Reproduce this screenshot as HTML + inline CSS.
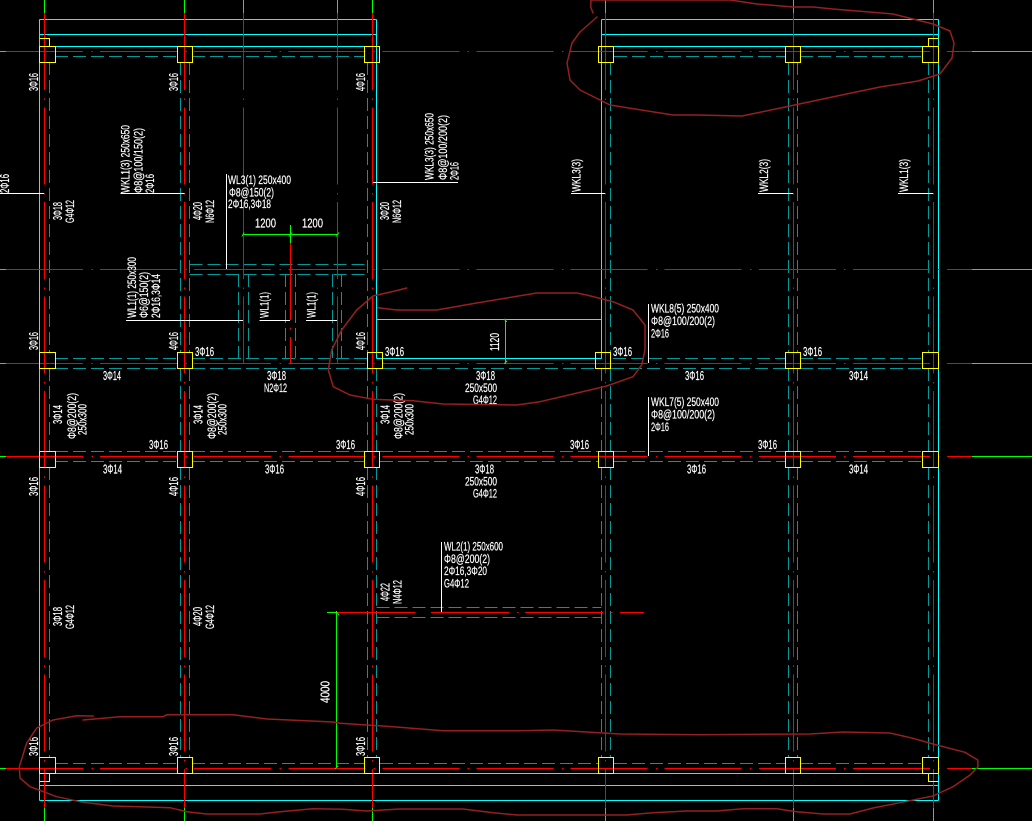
<!DOCTYPE html>
<html><head><meta charset="utf-8"><style>
html,body{margin:0;padding:0;background:#000;width:1032px;height:821px;overflow:hidden}
svg{display:block}
text{font-family:"Liberation Sans",sans-serif;font-size:12.5px;fill:#fff;stroke:#fff;stroke-width:.2}
.l{font-size:11.5px}
.c{stroke:#00ffff;stroke-width:1;fill:none;shape-rendering:crispEdges}
.t{stroke:#009a9a;stroke-width:1;fill:none;stroke-dasharray:13 5;shape-rendering:crispEdges}
.rh{stroke:#ff0000;stroke-width:1;fill:none;stroke-dasharray:77 8.3 1.5 7.3;shape-rendering:crispEdges}
.rv{stroke:#ff0000;stroke-width:1;fill:none;stroke-dasharray:77 8.5 1.5 7.5;shape-rendering:crispEdges}
.r{stroke:#ff0000;stroke-width:1;fill:none;shape-rendering:crispEdges}
.g{stroke:#00ff00;stroke-width:1;fill:none;shape-rendering:crispEdges}
.w{stroke:#ffffff;stroke-width:1;fill:none;shape-rendering:crispEdges}
.y{stroke:#ffff00;stroke-width:1;fill:none;shape-rendering:crispEdges}
.m{stroke:#961f1f;stroke-width:1.5;fill:none;stroke-linejoin:round;stroke-linecap:round}
</style></head><body>
<svg width="1032" height="821" viewBox="0 0 1032 821" xmlns="http://www.w3.org/2000/svg">
<rect width="1032" height="821" fill="#000"/>

<!-- cyan -->
<path class="c" d="M39.5 19.5H376.5M39.5 34.5H376.5M39.5 46.5H376.5M601.5 19.5H938.5M601.5 34.5H938.5M601.5 46.5H938.5M39.5 773.5H938.5M39.5 785.5H938.5M39.5 800.5H938.5M39.5 19.5V800.5M938.5 19.5V800.5M376.5 19.5V358.5M601.5 19.5V358.5M376.5 358.5H601.5M376.5 319.5H601.5"/>

<!-- teal dashed verticals -->
<path class="t" d="M49.5 62V352M49.5 368V451M49.5 467V757M180.5 62V352M180.5 368V451M180.5 467V757M189.5 62V352M189.5 368V451M189.5 467V757M367.5 62V352M367.5 368V451M367.5 467V757M376.5 368V451M376.5 467V757M601.5 368V451M601.5 467V757M610.5 62V352M610.5 368V451M610.5 467V757M788.5 62V352M788.5 368V451M788.5 467V757M797.5 62V352M797.5 368V451M797.5 467V757M928.5 62V352M928.5 368V451M928.5 467V757"/>
<!-- teal dashed horizontals -->
<path class="t" d="M55 56.5H177M192 56.5H364M614 56.5H785M800 56.5H922M55 358.5H177M192 358.5H367M613 358.5H785M800 358.5H922M55 368.5H177M192 368.5H367M383 368.5H595M611 368.5H785M800 368.5H922M55 451.5H177M192 451.5H364M380 451.5H598M614 451.5H785M800 451.5H922M55 461.5H177M192 461.5H364M380 461.5H598M614 461.5H785M800 461.5H922M55 763.5H177M192 763.5H364M380 763.5H598M614 763.5H785M800 763.5H922M189.5 264.5H367M189.5 274.5H367M376.5 607.5H601.5M376.5 617.5H601.5"/>
<path class="t" d="M238.5 274V358M248.5 274V358M285.5 274V358M295.5 274V358M332.5 274V358M341.5 274V358"/>

<!-- green axes -->
<path class="g" d="M44.5 0V13M184.5 0V13M243.5 0V13M337.5 0V13M372.5 0V13M605.5 0V13M793.5 0V13M933.5 0V13M44.5 808V821M184.5 808V821M372.5 808V821M605.5 808V821M793.5 808V821M933.5 808V821M0 51.5H6M0 269.5H6M0 363.5H6M0 456.5H6M0 768.5H6M972 51.5H1032M972 269.5H1032M972 363.5H1032M972 456.5H1032M972 768.5H1032"/>

<!-- red axes -->
<path class="rh" d="M6 51.5H972"/>
<path class="rh" d="M6 269.5H972"/>
<path class="rh" d="M6 363.5H972"/>
<path class="rh" d="M6 456.5H972"/>
<path class="rh" d="M6 768.5H972"/>
<path class="rv" d="M44.5 13V808"/>
<path class="rv" d="M184.5 13V808"/>
<path class="rv" d="M372.5 13V808"/>
<path class="rv" d="M605.5 13V808"/>
<path class="rv" d="M793.5 13V808"/>
<path class="rv" d="M933.5 13V808"/>
<path class="rv" d="M243.5 13V363"/>
<path class="rv" d="M337.5 13V363"/>
<path class="r" d="M290.5 243V320M290.5 328V329.5M290.5 337V363M337 612.5H415M431 612.5H509M517 612.5H518.5M525 612.5H603M611 612.5H612.5M620 612.5H644"/>

<!-- white leaders -->
<path class="w" d="M0 193.5H44M120.5 193.5H184.5M571 193.5H605M758 193.5H793M898 193.5H933M373 182.5H458M226.5 174V269M126 320.5H243M259.5 320.5H290M306 320.5H337M648.5 304V363M648.5 397V456M441.5 542V612"/>

<!-- green dims -->
<path class="g" d="M243 234.5H338M290.5 225V243M242 236.5L244 232.5M289 236.5L292 232.5M336 236.5L339 232.5M336.5 612.5V768M327 612.5H337M335 769L338 766M336 611L339 615M505.5 319V364M504 319L507 322M504 364L507 361"/>

<!-- yellow columns -->
<path class="y" d="M39.5 46.5H55.5V62.5H39.5ZM39.5 38.5H49.5V46.5M177.5 46.5H192.5V62.5H177.5ZM364.5 46.5H379.5V62.5H364.5ZM598.5 46.5H613.5V62.5H598.5ZM785.5 46.5H800.5V62.5H785.5ZM922.5 46.5H938.5V62.5H922.5ZM928.5 46.5V38.5H938.5"/>
<path class="y" d="M39.5 352.5H55.5V368.5H39.5ZM177.5 352.5H192.5V368.5H177.5ZM367.5 352.5H382.5V368.5H367.5ZM595.5 352.5H610.5V368.5H595.5ZM785.5 352.5H800.5V368.5H785.5ZM922.5 352.5H938.5V368.5H922.5Z"/>
<path class="y" d="M39.5 451.5H55.5V467.5H39.5ZM177.5 451.5H192.5V467.5H177.5ZM364.5 451.5H379.5V467.5H364.5ZM598.5 451.5H613.5V467.5H598.5ZM785.5 451.5H800.5V467.5H785.5ZM922.5 451.5H938.5V467.5H922.5Z"/>
<path class="y" d="M39.5 757.5H55.5V773.5H39.5ZM39.5 781.5H49.5V773.5M177.5 757.5H192.5V773.5H177.5ZM364.5 757.5H379.5V773.5H364.5ZM598.5 757.5H613.5V773.5H598.5ZM785.5 757.5H800.5V773.5H785.5ZM922.5 757.5H938.5V773.5H922.5ZM928.5 773.5V781.5H938.5"/>

<!-- rotated labels -->
<text transform="translate(38,91)rotate(-90)" textLength="18" lengthAdjust="spacingAndGlyphs">3Φ16</text>
<text transform="translate(178,91)rotate(-90)" textLength="18" lengthAdjust="spacingAndGlyphs">3Φ16</text>
<text transform="translate(365,91)rotate(-90)" textLength="18" lengthAdjust="spacingAndGlyphs">4Φ16</text>
<text transform="translate(9,193)rotate(-90)" textLength="19" lengthAdjust="spacingAndGlyphs">2Φ16</text>
<text class="l" transform="translate(129.5,193)rotate(-90)" textLength="68" lengthAdjust="spacingAndGlyphs">WKL1(3) 250x650</text>
<text class="l" transform="translate(142.5,193)rotate(-90)" textLength="65" lengthAdjust="spacingAndGlyphs">Φ8@100/150(2)</text>
<text class="l" transform="translate(154,193)rotate(-90)" textLength="19" lengthAdjust="spacingAndGlyphs">2Φ16</text>
<text transform="translate(62,220)rotate(-90)" textLength="18" lengthAdjust="spacingAndGlyphs">3Φ18</text>
<text class="l" transform="translate(74,223)rotate(-90)" textLength="23" lengthAdjust="spacingAndGlyphs">G4Φ12</text>
<text transform="translate(202,220)rotate(-90)" textLength="18" lengthAdjust="spacingAndGlyphs">4Φ20</text>
<text class="l" transform="translate(214,223)rotate(-90)" textLength="23" lengthAdjust="spacingAndGlyphs">N6Φ12</text>
<text transform="translate(389,220)rotate(-90)" textLength="18" lengthAdjust="spacingAndGlyphs">3Φ20</text>
<text class="l" transform="translate(401,223)rotate(-90)" textLength="23" lengthAdjust="spacingAndGlyphs">N6Φ12</text>
<text class="l" transform="translate(433.5,180)rotate(-90)" textLength="67" lengthAdjust="spacingAndGlyphs">WKL3(3) 250x650</text>
<text class="l" transform="translate(447,180)rotate(-90)" textLength="65" lengthAdjust="spacingAndGlyphs">Φ8@100/200(2)</text>
<text class="l" transform="translate(458.5,180)rotate(-90)" textLength="18" lengthAdjust="spacingAndGlyphs">2Φ16</text>
<text class="l" transform="translate(136,318)rotate(-90)" textLength="61" lengthAdjust="spacingAndGlyphs">WL1(1) 250x300</text>
<text class="l" transform="translate(148,318)rotate(-90)" textLength="46" lengthAdjust="spacingAndGlyphs">Φ6@150(2)</text>
<text class="l" transform="translate(160,318)rotate(-90)" textLength="44" lengthAdjust="spacingAndGlyphs">2Φ16,3Φ14</text>
<text class="l" transform="translate(268.5,318)rotate(-90)" textLength="26" lengthAdjust="spacingAndGlyphs">WL1(1)</text>
<text class="l" transform="translate(315.5,318)rotate(-90)" textLength="26" lengthAdjust="spacingAndGlyphs">WL1(1)</text>
<text class="l" transform="translate(580.5,192)rotate(-90)" textLength="33" lengthAdjust="spacingAndGlyphs">WKL3(3)</text>
<text class="l" transform="translate(768,192)rotate(-90)" textLength="33" lengthAdjust="spacingAndGlyphs">WKL2(3)</text>
<text class="l" transform="translate(908,192)rotate(-90)" textLength="33" lengthAdjust="spacingAndGlyphs">WKL1(3)</text>
<text transform="translate(38,350)rotate(-90)" textLength="18" lengthAdjust="spacingAndGlyphs">3Φ16</text>
<text transform="translate(178,350)rotate(-90)" textLength="18" lengthAdjust="spacingAndGlyphs">4Φ16</text>
<text transform="translate(365,350)rotate(-90)" textLength="18" lengthAdjust="spacingAndGlyphs">4Φ16</text>
<text transform="translate(499,351)rotate(-90)" textLength="18" lengthAdjust="spacingAndGlyphs">1120</text>
<text transform="translate(62,424)rotate(-90)" textLength="19" lengthAdjust="spacingAndGlyphs">3Φ14</text>
<text class="l" transform="translate(76,439)rotate(-90)" textLength="46" lengthAdjust="spacingAndGlyphs">Φ8@200(2)</text>
<text class="l" transform="translate(86.5,435)rotate(-90)" textLength="31" lengthAdjust="spacingAndGlyphs">250x300</text>
<text transform="translate(202.5,424)rotate(-90)" textLength="19" lengthAdjust="spacingAndGlyphs">3Φ14</text>
<text class="l" transform="translate(216,439)rotate(-90)" textLength="46" lengthAdjust="spacingAndGlyphs">Φ8@200(2)</text>
<text class="l" transform="translate(226.5,435)rotate(-90)" textLength="31" lengthAdjust="spacingAndGlyphs">250x300</text>
<text transform="translate(389.5,424)rotate(-90)" textLength="19" lengthAdjust="spacingAndGlyphs">3Φ14</text>
<text class="l" transform="translate(402.5,439)rotate(-90)" textLength="46" lengthAdjust="spacingAndGlyphs">Φ8@200(2)</text>
<text class="l" transform="translate(413.5,435)rotate(-90)" textLength="31" lengthAdjust="spacingAndGlyphs">250x300</text>
<text transform="translate(38,496)rotate(-90)" textLength="19" lengthAdjust="spacingAndGlyphs">3Φ16</text>
<text transform="translate(178,496)rotate(-90)" textLength="19" lengthAdjust="spacingAndGlyphs">4Φ16</text>
<text transform="translate(365,496)rotate(-90)" textLength="19" lengthAdjust="spacingAndGlyphs">4Φ16</text>
<text transform="translate(62,626)rotate(-90)" textLength="19" lengthAdjust="spacingAndGlyphs">3Φ18</text>
<text class="l" transform="translate(74,629)rotate(-90)" textLength="24" lengthAdjust="spacingAndGlyphs">G4Φ12</text>
<text transform="translate(202,626)rotate(-90)" textLength="19" lengthAdjust="spacingAndGlyphs">4Φ20</text>
<text class="l" transform="translate(214,629)rotate(-90)" textLength="24" lengthAdjust="spacingAndGlyphs">G4Φ12</text>
<text transform="translate(389.5,601)rotate(-90)" textLength="18" lengthAdjust="spacingAndGlyphs">4Φ22</text>
<text class="l" transform="translate(401.5,604)rotate(-90)" textLength="24" lengthAdjust="spacingAndGlyphs">N4Φ12</text>
<text transform="translate(329.5,703)rotate(-90)" textLength="22" lengthAdjust="spacingAndGlyphs">4000</text>
<text transform="translate(38,756)rotate(-90)" textLength="19" lengthAdjust="spacingAndGlyphs">3Φ16</text>
<text transform="translate(178,756)rotate(-90)" textLength="19" lengthAdjust="spacingAndGlyphs">3Φ16</text>
<text transform="translate(365,756)rotate(-90)" textLength="19" lengthAdjust="spacingAndGlyphs">3Φ16</text>

<!-- horizontal labels -->
<text class="l" x="228" y="184" textLength="63" lengthAdjust="spacingAndGlyphs">WL3(1) 250x400</text>
<text class="l" x="229" y="196.5" textLength="45" lengthAdjust="spacingAndGlyphs">Φ8@150(2)</text>
<text class="l" x="228" y="208" textLength="43" lengthAdjust="spacingAndGlyphs">2Φ16,3Φ18</text>
<text x="255" y="227.5" textLength="21" lengthAdjust="spacingAndGlyphs">1200</text>
<text x="302" y="227.5" textLength="21" lengthAdjust="spacingAndGlyphs">1200</text>
<text x="195" y="356" textLength="19" lengthAdjust="spacingAndGlyphs">3Φ16</text>
<text x="385" y="356" textLength="19" lengthAdjust="spacingAndGlyphs">3Φ16</text>
<text x="613" y="356" textLength="19" lengthAdjust="spacingAndGlyphs">3Φ16</text>
<text x="803" y="356" textLength="19" lengthAdjust="spacingAndGlyphs">3Φ16</text>
<text x="103" y="380" textLength="18" lengthAdjust="spacingAndGlyphs">3Φ14</text>
<text x="267" y="380" textLength="19" lengthAdjust="spacingAndGlyphs">3Φ18</text>
<text class="l" x="264" y="392" textLength="23" lengthAdjust="spacingAndGlyphs">N2Φ12</text>
<text x="476" y="380" textLength="19" lengthAdjust="spacingAndGlyphs">3Φ18</text>
<text class="l" x="465" y="392" textLength="32" lengthAdjust="spacingAndGlyphs">250x500</text>
<text class="l" x="473" y="404" textLength="24" lengthAdjust="spacingAndGlyphs">G4Φ12</text>
<text x="685" y="380" textLength="19" lengthAdjust="spacingAndGlyphs">3Φ16</text>
<text x="849" y="380" textLength="19" lengthAdjust="spacingAndGlyphs">3Φ14</text>
<text class="l" x="651" y="312.5" textLength="68" lengthAdjust="spacingAndGlyphs">WKL8(5) 250x400</text>
<text class="l" x="651" y="325" textLength="64" lengthAdjust="spacingAndGlyphs">Φ8@100/200(2)</text>
<text class="l" x="651" y="337.5" textLength="18" lengthAdjust="spacingAndGlyphs">2Φ16</text>
<text class="l" x="651" y="406" textLength="68" lengthAdjust="spacingAndGlyphs">WKL7(5) 250x400</text>
<text class="l" x="651" y="418.5" textLength="64" lengthAdjust="spacingAndGlyphs">Φ8@100/200(2)</text>
<text class="l" x="651" y="431" textLength="18" lengthAdjust="spacingAndGlyphs">2Φ16</text>
<text x="149" y="449" textLength="19" lengthAdjust="spacingAndGlyphs">3Φ16</text>
<text x="336" y="449" textLength="19" lengthAdjust="spacingAndGlyphs">3Φ16</text>
<text x="570" y="449" textLength="19" lengthAdjust="spacingAndGlyphs">3Φ16</text>
<text x="758" y="449" textLength="19" lengthAdjust="spacingAndGlyphs">3Φ16</text>
<text x="103" y="473.5" textLength="19" lengthAdjust="spacingAndGlyphs">3Φ14</text>
<text x="265" y="473.5" textLength="19" lengthAdjust="spacingAndGlyphs">3Φ16</text>
<text x="475" y="473.5" textLength="19" lengthAdjust="spacingAndGlyphs">3Φ18</text>
<text class="l" x="465" y="485.5" textLength="32" lengthAdjust="spacingAndGlyphs">250x500</text>
<text class="l" x="473" y="497.5" textLength="24" lengthAdjust="spacingAndGlyphs">G4Φ12</text>
<text x="687" y="473.5" textLength="19" lengthAdjust="spacingAndGlyphs">3Φ16</text>
<text x="849" y="473.5" textLength="19" lengthAdjust="spacingAndGlyphs">3Φ14</text>
<text class="l" x="444" y="550.5" textLength="59" lengthAdjust="spacingAndGlyphs">WL2(1) 250x600</text>
<text class="l" x="444" y="563" textLength="46" lengthAdjust="spacingAndGlyphs">Φ8@200(2)</text>
<text class="l" x="444" y="575" textLength="43" lengthAdjust="spacingAndGlyphs">2Φ16,3Φ20</text>
<text class="l" x="444" y="587.5" textLength="25" lengthAdjust="spacingAndGlyphs">G4Φ12</text>

<!-- red freehand clouds -->
<polyline class="m" points="593,13 590.7,7 591,0 730,0 757,4 793,7 813,7 833,9 893,14 917,20 933,24 950,31 954,43 952,58 940,74 918,81 880,87 837,96 790,106 742,116 697,115 673,115 610,105 580,90 570,80 567,63 572,43 580,32 597,17"/>
<polyline class="m" points="406.7,288 395,291 373,296 356.7,310 341.7,330 331.7,350 328.3,370 333.3,386.7 350,395 373,399.3 413,400.7 443,404 516.7,405 540,401.7 573,394 606.7,386 633,376.7 641.7,365 645,350 645,325 633,310 613,301.7 586.7,295 576.7,293 536.7,293 506.7,298 476.7,303 436.7,310 396.7,310 378,307.7"/>
<polyline class="m" points="93.3,716 76.7,715.7 53,720 36.7,728 26.7,743 19.3,766.7 20,778 30,786.7 56.7,796.7 80,801.7 113,806 170,807.7 186.7,811.7 206.7,814 260,814 280,811.7 313,808.7 343,809.3 366.7,811 400,809 463,809 493,812.7 516.7,815 626.7,815 653,812.7 686.7,811 716.7,811 743,808.7 776.7,808.7 796.7,811.7 823,814 850,814 873,808 900,802.7 933,796 953,786.7 970,775 978,767 977.7,760 965,752.3 933,744 913,738.3 890,733 843,732 810,734 700,734.7 620,734 553,730 520,730.7 443,730.7 393,726.7 340,723.3 333,722 267,719 233,714.7 167,714.7 163,716.7 120,716.7 83,720"/>
</svg>
</body></html>
